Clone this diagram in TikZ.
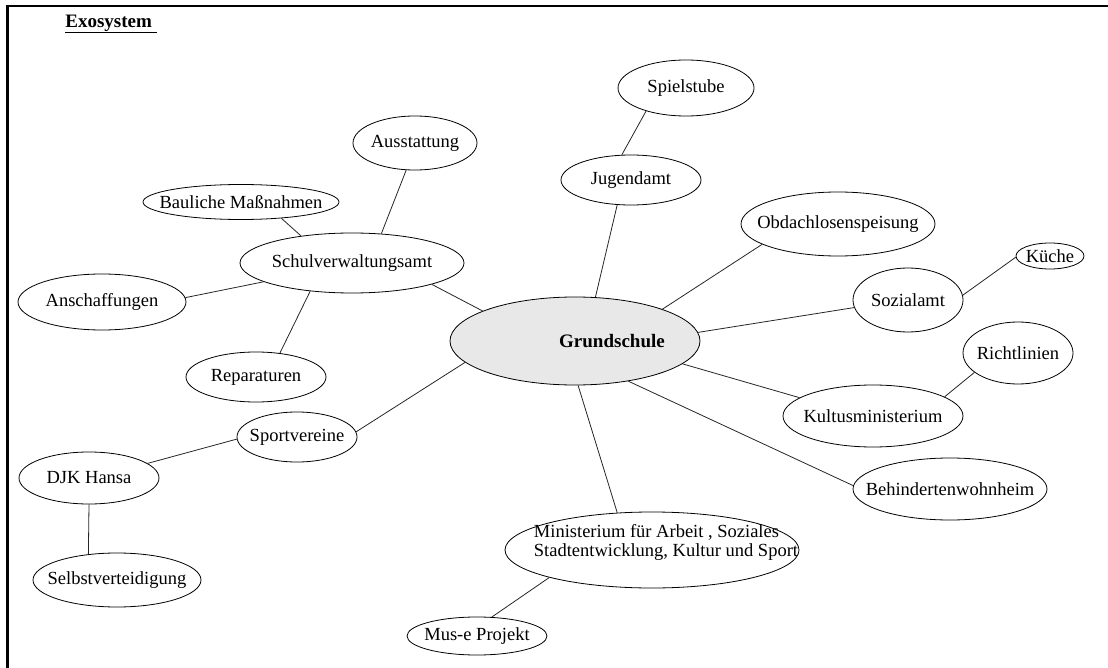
\documentclass[tikz,border=0pt]{standalone}
\usepackage{fontspec}
\setmainfont{Liberation Serif}
\usetikzlibrary{shapes.geometric}

\begin{document}
\begin{tikzpicture}[x=1pt,y=-1pt]
  \tikzset{
    bubble/.style={
      draw,
      ellipse,
      inner xsep=-40pt,
      inner ysep=-12pt,
      line width=0.8pt,
      font=\fontsize{18.5}{19}\selectfont
    },
    link/.style={
      draw=black!85,
      line width=0.8pt
    },
    frame/.style={
      line width=2.6pt
    }
  }
  \useasboundingbox (0,0) rectangle (1108,668);

  % Frame and title
  \draw[frame] (7.5,668) -- (7.5,6) -- (1108,6);
  \node[font=\fontsize{19}{20}\selectfont\bfseries] (title) at (111,24) {\underline{Exosystem~}};

  % Centre
  \node[bubble, minimum width=250pt, minimum height=88pt, fill=black!9,
    label={[font=\fontsize{19}{20}\selectfont\bfseries, xshift=37pt]center:Grundschule}] (gs) at (575,341) {};

  % Vertices
  \node[bubble, minimum width=136pt, minimum height=56pt] (spiel) at (686,88) {Spielstube};
  \node[bubble, minimum width=140pt, minimum height=50pt] (jugend) at (631,180) {Jugendamt};
  \node[bubble, minimum width=124pt, minimum height=54pt] (ausst) at (415,143) {Ausstattung};
  \node[bubble, minimum width=196pt, minimum height=35pt] (baul) at (241,202) {Bauliche Maßnahmen};
  \node[bubble, minimum width=224pt, minimum height=60pt] (schul) at (352,263) {Schulverwaltungsamt};
  \node[bubble, minimum width=194pt, minimum height=64pt] (obdach) at (838,224) {Obdachlosenspeisung};
  \node[bubble, minimum width=68pt, minimum height=26pt] (kueche) at (1050,256) {Küche};
  \node[bubble, minimum width=110pt, minimum height=64pt] (sozial) at (908,300) {Sozialamt};
  \node[bubble, minimum width=110pt, minimum height=62pt] (richt) at (1018,353) {Richtlinien};
  \node[bubble, minimum width=168pt, minimum height=56pt] (ansch) at (102,302) {Anschaffungen};
  \node[bubble, minimum width=140pt, minimum height=50pt] (repar) at (256,377) {Reparaturen};
  \node[bubble, minimum width=180pt, minimum height=62pt] (kultus) at (873,416) {Kultusministerium};
  \node[bubble, minimum width=194pt, minimum height=62pt] (behind) at (950,489) {Behindertenwohnheim};
  \node[bubble, minimum width=120pt, minimum height=50pt] (sport) at (297,437) {Sportvereine};
  \node[bubble, minimum width=140pt, minimum height=52pt] (djk) at (89,478) {DJK Hansa};
  \node[bubble, minimum width=168pt, minimum height=54pt] (selbst) at (117,580) {Selbstverteidigung};
  \node[bubble, minimum width=294pt, minimum height=76pt,
    label={[font=\fontsize{18.5}{19}\selectfont, align=left, xshift=14pt, yshift=8pt]center:Ministerium für Arbeit , Soziales\\Stadtentwicklung, Kultur und Sport}] (minist) at (652,550) {};
  \node[bubble, minimum width=140pt, minimum height=38pt] (muse) at (477,636) {Mus-e Projekt};

  % Edges
  \draw[link] (gs.65) -- (jugend.241);
  \draw[link] (jugend.110) -- (spiel.210);
  \draw[link] (gs.20) -- (obdach.195);
  \draw[link] (gs.4) -- (sozial.188);
  \draw[link] (sozial.5) -- (kueche.182);
  \draw[link] (gs.-12) -- (kultus.166);
  \draw[link] (kultus.15) -- (richt.204);
  \draw[link] (gs.-37) -- (behind.178);
  \draw[link] (gs.-86) -- (minist.133);
  \draw[link] (minist.195) -- (muse.52);
  \draw[link] (gs.191) -- (sport.5);
  \draw[link] (sport.182) -- (djk.14);
  \draw[link] (djk.270) -- (selbst.138);
  \draw[link] (gs.162) -- (schul.-15);
  \draw[link] (schul.45) -- (ausst.252);
  \draw[link] (schul.152) -- (baul.-22);
  \draw[link] (schul.192) -- (ansch.3);
  \draw[link] (schul.214) -- (repar.45);
\end{tikzpicture}
\end{document}
